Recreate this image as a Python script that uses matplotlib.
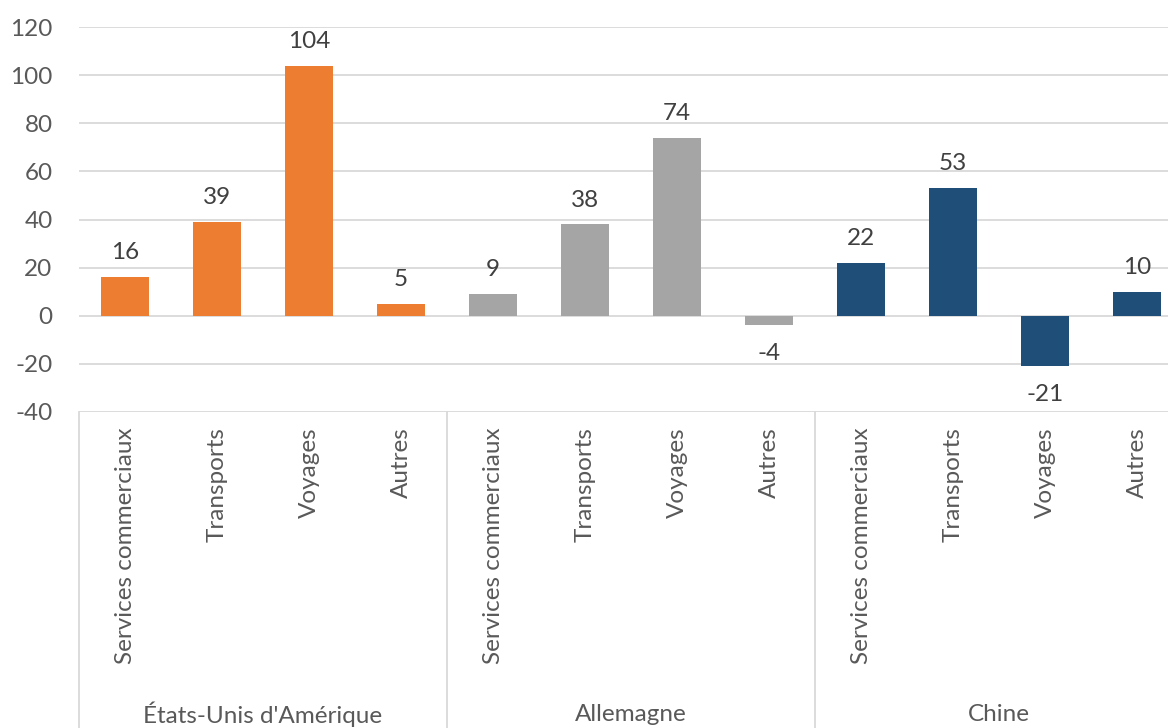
import matplotlib.pyplot as plt
import matplotlib.transforms as mtransforms

pays = ["États-Unis d'Amérique", "Allemagne", "Chine"]
secteurs = ["Services commerciaux", "Transports", "Voyages", "Autres"]
valeurs_usa = [16, 39, 104, 5]
valeurs_all = [9, 38, 74, -4]
valeurs_chine = [22, 53, -21, 10]
couleurs = ["#ED7D31", "#A5A5A5", "#1F4E79"]

plt.rcParams['font.family'] = ['Lato', 'DejaVu Sans']
plt.rcParams['axes.unicode_minus'] = False

W, H = 1168, 728
fig = plt.figure(figsize=(W / 100, H / 100), dpi=100)
# zone de tracé en pixels : gauche 79, haut 27, bas 412, 12 cases de 92 px
ax = fig.add_axes([79 / W, (H - 412) / H, 1104 / W, 385 / H])

taille = 17.5
series = [valeurs_usa, valeurs_all, valeurs_chine]
etiquettes = []
pos = 0
for i, vals in enumerate(series):
    xs = list(range(pos, pos + len(vals)))
    barres = ax.bar(xs, vals, width=0.52, color=couleurs[i], zorder=3)
    for b, v in zip(barres, vals):
        decal = 17.5 if v >= 0 else -20
        ax.annotate(str(v), (b.get_x() + b.get_width() / 2, v),
                    xytext=(0, decal), textcoords='offset points',
                    ha='center', va='center', fontsize=taille, color='#404040')
    etiquettes += secteurs
    pos += len(vals)

ax.set_xlim(-0.5, pos - 0.5)
ax.set_ylim(-40, 120)
ax.set_yticks(range(-40, 121, 20))
ax.yaxis.grid(True, color='#D9D9D9', linewidth=1.3, zorder=0)
for s in ax.spines.values():
    s.set_visible(False)
ax.tick_params(axis='y', length=0, pad=19, labelsize=taille, labelcolor='#595959')

ax.set_xticks(range(pos))
ax.set_xticklabels(etiquettes, rotation=90, va='top', ha='center')
ax.tick_params(axis='x', length=0, pad=11, labelsize=taille, labelcolor='#595959')

# séparateurs de groupes et noms des pays
trans = mtransforms.blended_transform_factory(ax.transData, ax.transAxes)
for k in range(len(pays) + 1):
    ax.plot([k * 4 - 0.5, k * 4 - 0.5], [0, -0.9], transform=trans,
            color='#D9D9D9', linewidth=1.3, clip_on=False)
for k, nom in enumerate(pays):
    ax.text(k * 4 + 1.5, -0.785, nom, transform=trans, ha='center', va='center',
            fontsize=taille, color='#595959')

fig.savefig('out.png', dpi=100)
